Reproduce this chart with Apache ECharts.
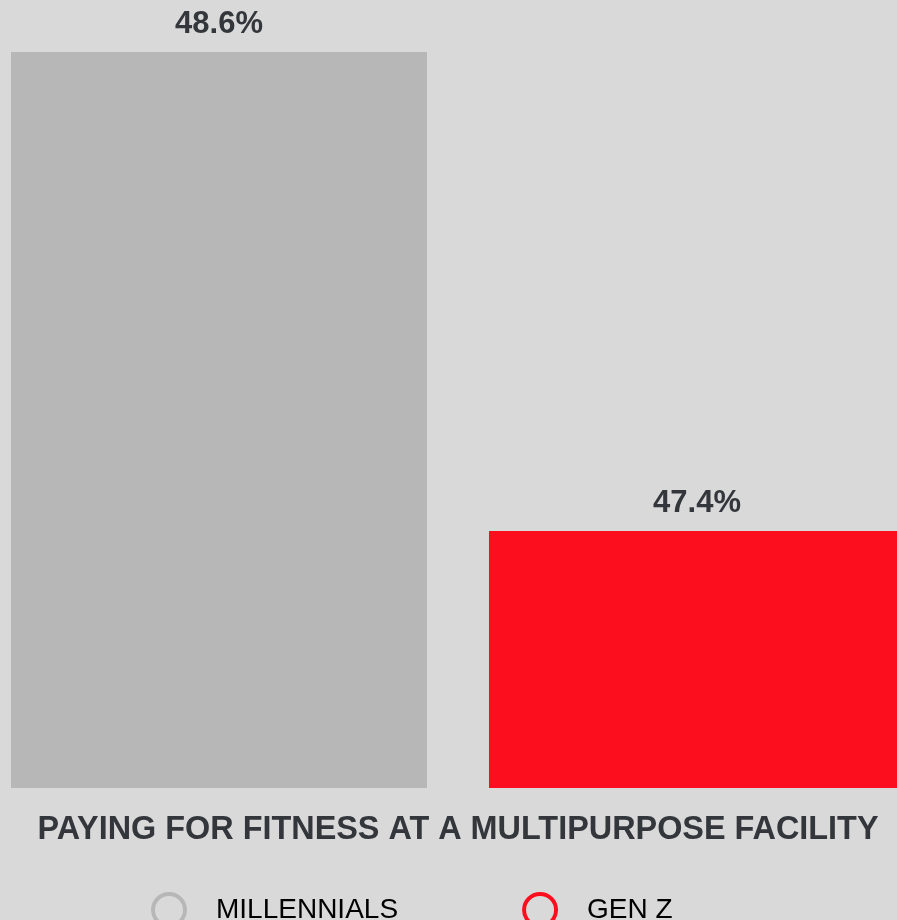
<!DOCTYPE html>
<html>
<head>
<meta charset="utf-8">
<script src="https://cdn.jsdelivr.net/npm/echarts@6/dist/echarts.min.js"></script>
<style>
  html, body { margin: 0; padding: 0; background: #d9d9d9; overflow: hidden; }
  /* the original plot runs past the right edge, so the canvas is a bit wider than the window */
  #main { width: 912px; height: 920px; }
</style>
</head>
<body>
<div id="main"></div>
<script>
// data
var categories = ['PAYING FOR FITNESS AT A MULTIPURPOSE FACILITY'];
var seriesNames = ['MILLENNIALS', 'GEN Z'];
var millennials = [48.6];
var genZ = [47.4];
var colors = ['#b7b7b7', '#fd0e1e'];

var myChart = echarts.init(document.getElementById('main'));

var labelStyle = {
    show: true,
    position: 'top',
    distance: 12,
    formatter: '{c}%',
    fontFamily: 'Liberation Sans, Arial, sans-serif',
    fontWeight: 'bold',
    fontSize: 31,
    color: '#33363b'
};

var option = {
    backgroundColor: '#d9d9d9',
    animation: false,
    grid: { left: 11, width: 894, top: 52, bottom: 132 },
    xAxis: {
        type: 'category',
        data: categories,
        axisLine: { show: false },
        axisTick: { show: false },
        axisLabel: {
            margin: 26,
            fontFamily: 'Liberation Sans, Arial, sans-serif',
            fontWeight: 'bold',
            fontSize: 32.4,
            color: '#33363b'
        }
    },
    yAxis: {
        type: 'value',
        show: false,
        min: 46.756,
        max: 48.6
    },
    legend: {
        left: 146,
        top: 887,
        itemWidth: 32,
        itemHeight: 32,
        itemGap: 124,
        icon: 'circle',
        textStyle: {
            fontFamily: 'Liberation Sans, Arial, sans-serif',
            fontSize: 28,
            color: '#000',
            padding: [0, 0, 0, 26]
        },
        data: [
            { name: seriesNames[0], itemStyle: { color: 'transparent', borderColor: colors[0], borderWidth: 4 } },
            { name: seriesNames[1], itemStyle: { color: 'transparent', borderColor: colors[1], borderWidth: 4 } }
        ]
    },
    series: [{
        name: seriesNames[0],
        type: 'bar',
        data: millennials,
        barWidth: 416,
        barGap: '14.9%',
        barCategoryGap: 0,
        itemStyle: { color: colors[0] },
        label: labelStyle
    }, {
        name: seriesNames[1],
        type: 'bar',
        data: genZ,
        barWidth: 416,
        barGap: '14.9%',
        barCategoryGap: 0,
        itemStyle: { color: colors[1] },
        label: labelStyle
    }]
};

myChart.setOption(option);
</script>
</body>
</html>
